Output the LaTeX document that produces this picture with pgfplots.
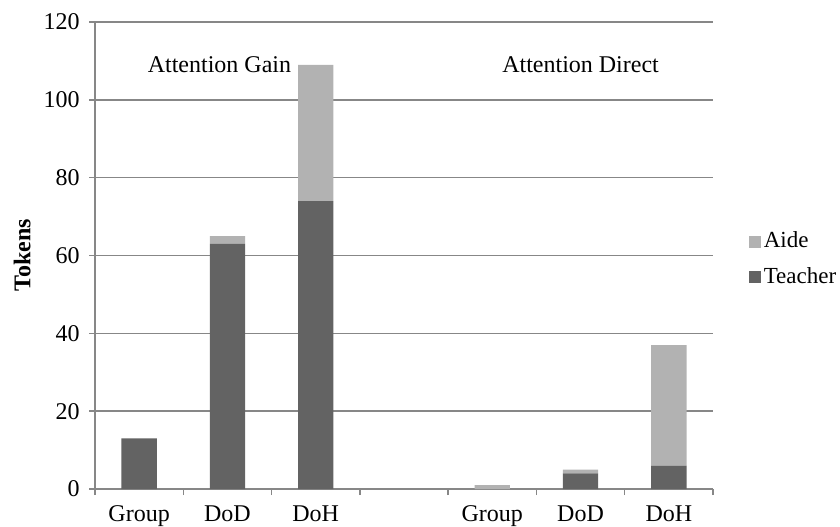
\documentclass[border=0pt]{standalone}
\usepackage{pgfplots}
\pgfplotsset{compat=1.18}
\usepackage{fontspec}
\setmainfont{Liberation Serif}
\definecolor{teacher}{HTML}{636363}
\definecolor{aide}{HTML}{B2B2B2}
\definecolor{gridc}{HTML}{878787}
\begin{document}
\begin{tikzpicture}
\fontsize{12bp}{14bp}\selectfont
\begin{axis}[
  at={(47.5bp,19bp)}, anchor=south west,
  scale only axis, width=309bp, height=233.5bp,
  ybar stacked, bar width=0.4,
  xmin=-0.5, xmax=6.5, ymin=0, ymax=120,
  xtick={0,1,2,4,5,6},
  xticklabels={Group,DoD,DoH,Group,DoD,DoH},
  minor xtick={-0.5,0.5,...,6.5},
  ytick={0,20,...,120},
  ymajorgrids,
  grid style={gridc, line width=0.7bp},
  axis x line*=bottom, axis y line*=left,
  axis line style={gridc, line width=0.7bp, -},
  tick align=outside,
  major tick length=3bp, minor tick length=3bp,
  major x tick style={draw=none},
  minor x tick style={gridc, line width=0.7bp},
  ytick style={gridc, line width=0.7bp},
  /pgf/number format/assume math mode=true,
  tick label style={font=\fontsize{12bp}{14bp}\selectfont},
  xticklabel style={yshift=-1bp},
  yticklabel style={xshift=-0.5bp},
  ylabel={\textbf{Tokens}},
  ylabel style={at={(axis description cs:-0.118,0.5)}, anchor=center, font=\fontsize{12bp}{14bp}\selectfont},
  reverse legend,
  legend style={at={(1,0.5)}, anchor=west, xshift=15bp, yshift=-2bp, draw=none, fill=none,
    font=\fontsize{11.5bp}{14bp}\selectfont, row sep=5.5bp,
    nodes={inner sep=1.2bp}},
  legend cell align=left,
]
\addplot[fill=teacher, draw=none, legend image code/.code={\fill[teacher] (0bp,-3bp) rectangle (6bp,3bp);}]
  coordinates {(0,13) (1,63) (2,74) (4,0) (5,4) (6,6)};
\addlegendentry{Teacher}
\addplot[fill=aide, draw=none, legend image code/.code={\fill[aide] (0bp,-3bp) rectangle (6bp,3bp);}]
  coordinates {(0,0) (1,2) (2,35) (4,1) (5,1) (6,31)};
\addlegendentry{Aide}
\node at (axis cs:0.91,109) {Attention Gain};
\node at (axis cs:5,109) {Attention Direct};
\end{axis}
\pgfresetboundingbox
\useasboundingbox (0,0) rectangle (420bp,263.5bp);
\end{tikzpicture}
\end{document}
